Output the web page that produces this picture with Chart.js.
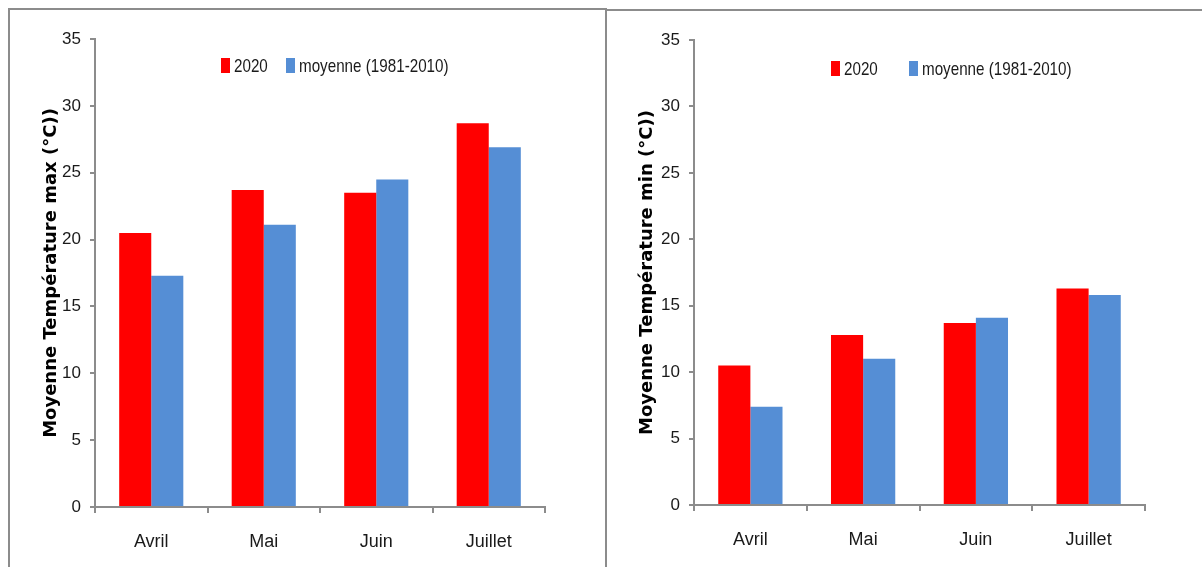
<!DOCTYPE html>
<html>
<head>
<meta charset="utf-8">
<script src="https://cdn.jsdelivr.net/npm/chart.js@4.4.1/dist/chart.umd.min.js"></script>
<style>
  html, body { margin: 0; padding: 0; background: #fff; }
  body { width: 1202px; height: 567px; position: relative; overflow: hidden; }
  .frame { position: absolute; border: 2px solid #8c8c8c; border-bottom: none; box-sizing: border-box; }
  .box { position: absolute; }
</style>
</head>
<body>
<div class="frame" style="left:8px; top:8px; width:599px; height:570px;"></div>
<div class="frame" style="left:605px; top:9px; width:610px; height:570px; border-right:none;"></div>
<div class="box" style="left:0; top:0; width:606px; height:567px;"><canvas id="maxChart"></canvas></div>
<div class="box" style="left:606px; top:0; width:596px; height:567px;"><canvas id="minChart"></canvas></div>
<script>
// months and series
const months = ['Avril', 'Mai', 'Juin', 'Juillet'];
const seriesNames = ['2020', 'moyenne (1981-2010)'];
const tmax2020 = [20.5, 23.7, 23.5, 28.7];
const tmaxMoyenne = [17.3, 21.1, 24.5, 26.9];
const tmin2020 = [10.5, 12.8, 13.7, 16.3];
const tminMoyenne = [7.4, 11.0, 14.1, 15.8];
const yTicks = [0, 5, 10, 15, 20, 25, 30, 35];

const RED = '#ff0000';
const BLUE = '#558ed5';
const AXIS = '#8c8c8c';
const TEXT = "'Liberation Sans', Arial, sans-serif";

// legend drawn inside the plot area, like the original (narrow text)
const insideLegend = {
  id: 'insideLegend',
  afterDraw(chart, args, opts) {
    const ctx = chart.ctx;
    const area = chart.chartArea;
    ctx.save();
    ctx.font = '19px ' + TEXT;
    ctx.textBaseline = 'middle';
    chart.data.datasets.forEach((ds, i) => {
      const x = area.left + opts.xs[i];
      const y = opts.y;
      ctx.fillStyle = ds.backgroundColor;
      ctx.fillRect(x, y - 7.5, 9, 15);
      ctx.fillStyle = '#1a1a1a';
      ctx.save();
      ctx.translate(x + 13, y + 1);
      ctx.scale(0.8, 1);
      ctx.fillText(ds.label, 0, 0);
      ctx.restore();
    });
    ctx.restore();
  }
};

function makeChart(id, a, b, title, p) {
  const ctx = document.getElementById(id);
  return new Chart(ctx, {
    type: 'bar',
    data: {
      labels: months,
      datasets: [
        { label: seriesNames[0], data: a, backgroundColor: RED, borderWidth: 0 },
        { label: seriesNames[1], data: b, backgroundColor: BLUE, borderWidth: 0 }
      ]
    },
    options: {
      responsive: true,
      maintainAspectRatio: false,
      animation: false,
      devicePixelRatio: 1,
      layout: { padding: { left: p.padLeft, right: p.padRight, top: p.padTop, bottom: p.padBottom } },
      datasets: { bar: { categoryPercentage: 0.57, barPercentage: 1.0 } },
      plugins: {
        legend: { display: false },
        tooltip: { enabled: false },
        insideLegend: { xs: p.legendXs, y: p.legendY }
      },
      scales: {
        x: {
          grid: { display: true, offset: true, drawOnChartArea: false, drawTicks: true, tickLength: 6, color: AXIS, lineWidth: 2 },
          border: { display: true, color: AXIS, width: 2 },
          ticks: { color: '#1a1a1a', padding: 18, font: { family: TEXT, size: 18 } },
          afterFit(scale) { scale.height = 50; }
        },
        y: {
          min: 0,
          max: 35,
          afterBuildTicks(scale) { scale.ticks = yTicks.map(v => ({ value: v })); },
          grid: { display: true, drawOnChartArea: false, drawTicks: true, tickLength: 5, color: AXIS, lineWidth: 2 },
          border: { display: true, color: AXIS, width: 2 },
          ticks: { color: '#1a1a1a', padding: 9, font: { family: TEXT, size: 17 } },
          title: {
            display: true,
            text: title,
            color: '#000',
            padding: { top: 4, bottom: 4 },
            font: { family: "'DejaVu Sans', sans-serif", size: 18, weight: 'bold' }
          },
          afterFit(scale) { scale.width = p.axisWidth; }
        }
      }
    },
    plugins: [insideLegend]
  });
}

document.addEventListener('DOMContentLoaded', () => {
  makeChart('maxChart', tmax2020, tmaxMoyenne, 'Moyenne Température max (°C))', {
    padLeft: 37, axisWidth: 58, padRight: 61, padTop: 39, padBottom: 10,
    legendXs: [126, 191], legendY: 65.5
  });
  makeChart('minChart', tmin2020, tminMoyenne, 'Moyenne Température min (°C))', {
    padLeft: 27, axisWidth: 61, padRight: 57, padTop: 40, padBottom: 12,
    legendXs: [137, 215], legendY: 68.5
  });
});
</script>
</body>
</html>
